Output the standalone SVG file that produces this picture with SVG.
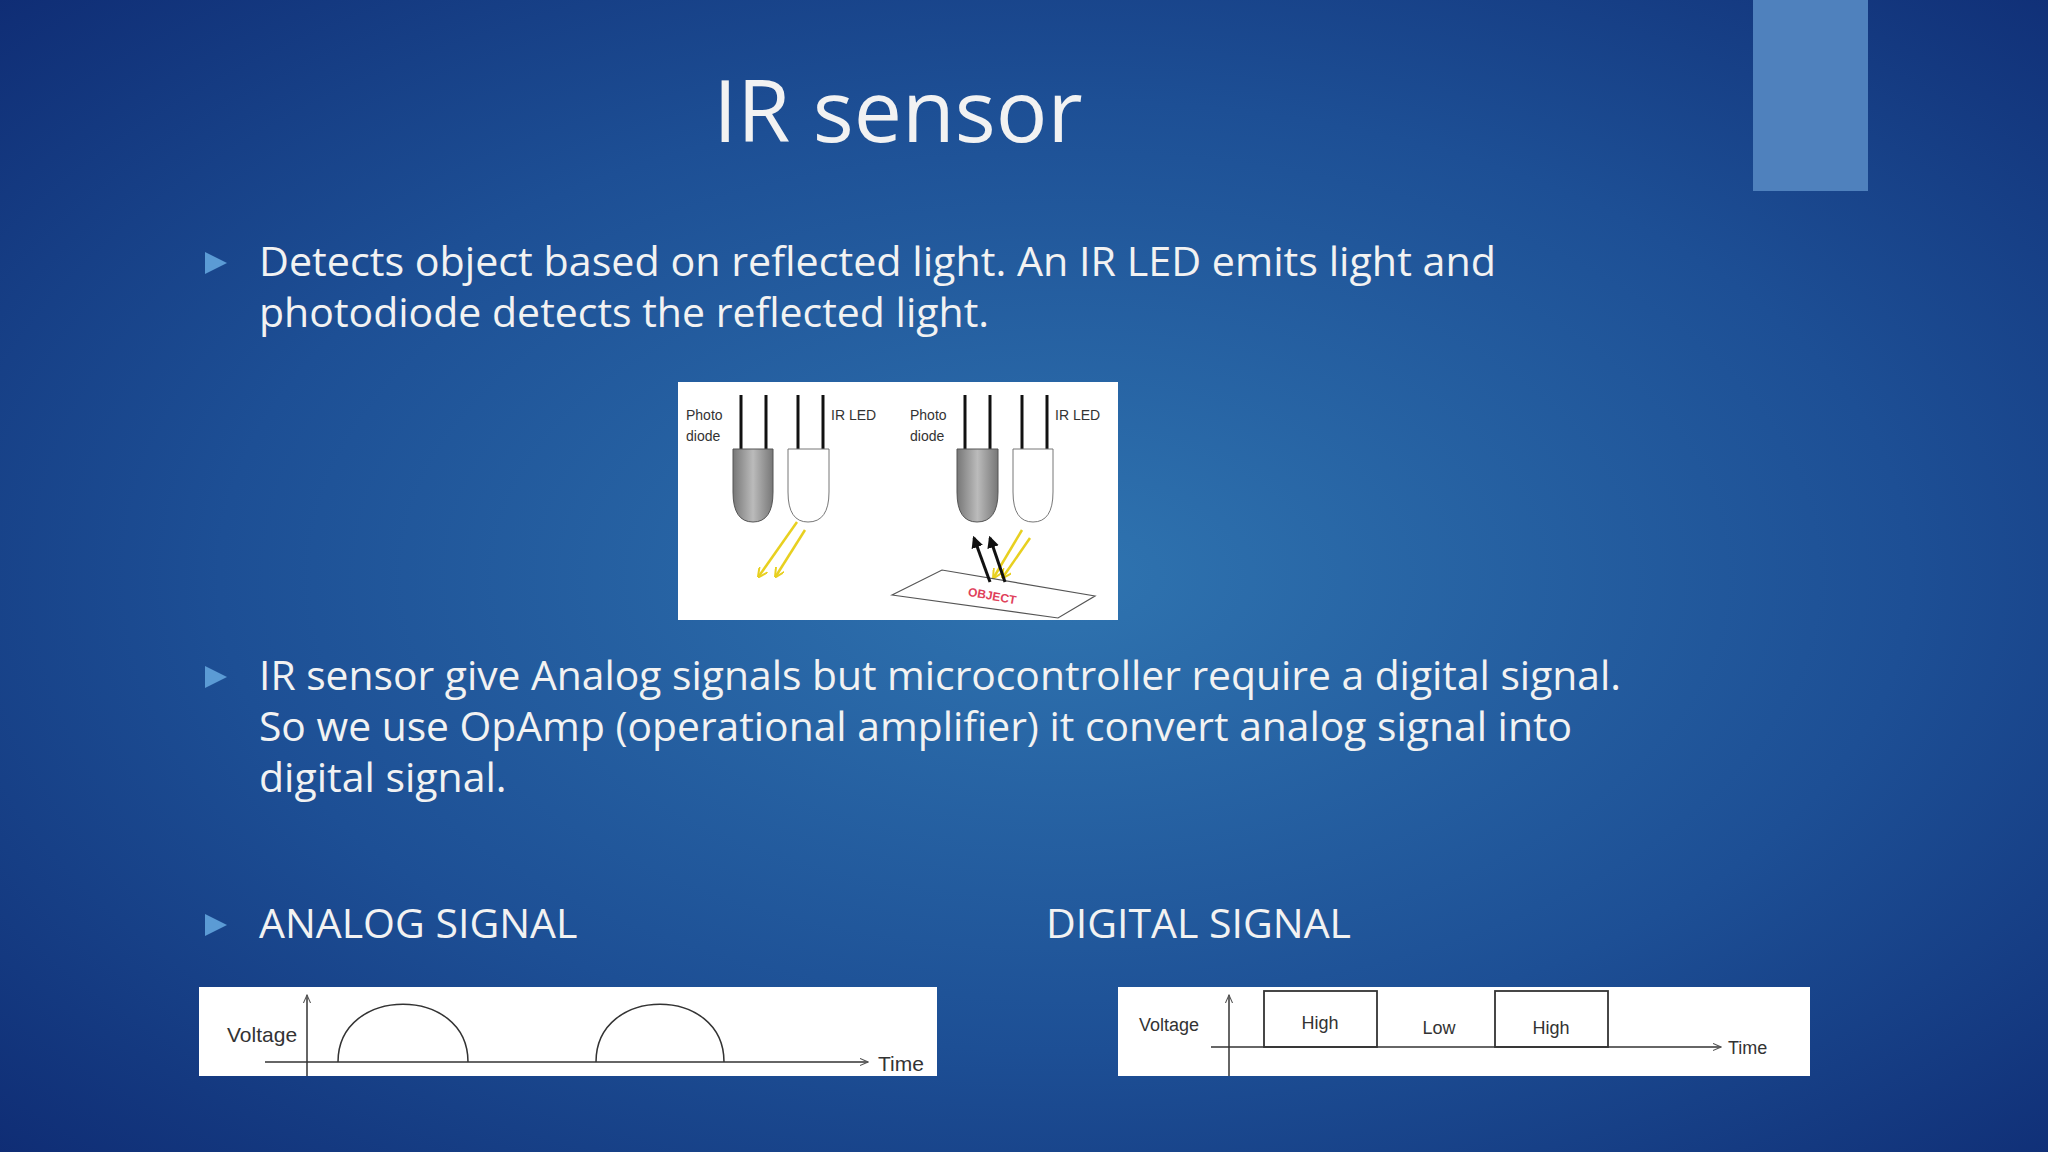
<svg xmlns="http://www.w3.org/2000/svg" width="2048" height="1152" viewBox="0 0 2048 1152">
<defs>
<radialGradient id="bg" cx="0.52" cy="0.5" r="0.75">
<stop offset="0" stop-color="#2f74b0"/><stop offset="0.55" stop-color="#1d4f95"/><stop offset="1" stop-color="#0e2a72"/>
</radialGradient>
<linearGradient id="gray" x1="0" x2="1"><stop offset="0" stop-color="#777"/><stop offset="0.5" stop-color="#bbb"/><stop offset="1" stop-color="#777"/></linearGradient>
<marker id="ya" viewBox="0 0 10 10" refX="8" refY="5" markerWidth="4" markerHeight="4" orient="auto"><path d="M0,0 L10,5 L0,10" fill="none" stroke="#e8d020" stroke-width="2"/></marker>
<marker id="ba" viewBox="0 0 10 10" refX="8" refY="5" markerWidth="4" markerHeight="4" orient="auto"><path d="M0,0 L10,5 L0,10 z" fill="#111"/></marker>
<marker id="ax" viewBox="0 0 10 10" refX="9" refY="5" markerWidth="6" markerHeight="6" orient="auto"><path d="M0,1 L9,5 L0,9" fill="none" stroke="#555" stroke-width="1.2"/></marker>
</defs>
<style>
.t{font-family:"Open Sans","Noto Sans",sans-serif;fill:#f2f2f2}
.b{font-size:41px}
.s{font-family:"Liberation Sans",sans-serif;fill:#333}
.lead{stroke:#111;stroke-width:3}
.ln{stroke:#333;stroke-width:1.5;fill:none}
.tri{fill:#5b9bd5}
</style>
<rect width="2048" height="1152" fill="url(#bg)"/>
<rect x="1753" y="0" width="115" height="191" fill="#4f81bd"/>
<text class="t" x="898" y="142" font-size="86" text-anchor="middle">IR sensor</text>
<g id="bullet1">
<path class="tri" d="M205,252 L227,263 L205,274z"/>
<text class="t b" x="259" y="276" textLength="1237" lengthAdjust="spacingAndGlyphs">Detects object based on reflected light.  An IR LED emits light and</text>
<text class="t b" x="259" y="327">photodiode detects the reflected light.</text>
</g>
<g id="picture">
<rect x="678" y="382" width="440" height="238" fill="#fff"/>
<g class="lead">
<line x1="741" y1="395" x2="741" y2="449"/><line x1="766" y1="395" x2="766" y2="449"/>
<line x1="798" y1="395" x2="798" y2="449"/><line x1="823" y1="395" x2="823" y2="449"/>
<line x1="965" y1="395" x2="965" y2="449"/><line x1="990" y1="395" x2="990" y2="449"/>
<line x1="1022" y1="395" x2="1022" y2="449"/><line x1="1047" y1="395" x2="1047" y2="449"/>
</g>
<path d="M733,449 H773 V492 Q773,522 753,522 Q733,522 733,492Z" fill="url(#gray)" stroke="#555"/>
<path d="M788,449 H829 V492 Q829,522 808,522 Q788,522 788,492Z" fill="#fff" stroke="#777"/>
<path d="M957,449 H998 V492 Q998,522 977,522 Q957,522 957,492Z" fill="url(#gray)" stroke="#555"/>
<path d="M1013,449 H1053 V492 Q1053,522 1033,522 Q1013,522 1013,492Z" fill="#fff" stroke="#777"/>
<g class="s" font-size="14">
<text x="686" y="420">Photo</text><text x="686" y="441">diode</text><text x="831" y="420">IR LED</text>
<text x="910" y="420">Photo</text><text x="910" y="441">diode</text><text x="1055" y="420">IR LED</text>
</g>
<g stroke="#e8d020" stroke-width="2.5" marker-end="url(#ya)">
<line x1="797" y1="522" x2="759" y2="576"/><line x1="805" y1="530" x2="776" y2="576"/>
<line x1="1022" y1="530" x2="994" y2="577"/><line x1="1030" y1="538" x2="1003" y2="577"/>
</g>
<path d="M892,595 L942,570 L1095,596 L1058,618Z" fill="none" stroke="#555" stroke-width="1.2"/>
<text x="992" y="600" font-family="Liberation Sans,sans-serif" font-size="12" font-weight="bold" fill="#e0405a" text-anchor="middle" transform="rotate(10 992 597)">OBJECT</text>
<g stroke="#111" stroke-width="3" marker-end="url(#ba)">
<line x1="990" y1="582" x2="974" y2="538"/><line x1="1005" y1="582" x2="990" y2="538"/>
</g>
</g>
<g id="bullet2">
<path class="tri" d="M205,666 L227,677 L205,688z"/>
<text class="t b" x="259" y="690" textLength="1362" lengthAdjust="spacingAndGlyphs">IR sensor give Analog signals but microcontroller require a digital signal.</text>
<text class="t b" x="259" y="741" textLength="1313" lengthAdjust="spacingAndGlyphs">So we use OpAmp (operational amplifier) it convert analog signal into</text>
<text class="t b" x="259" y="792">digital signal.</text>
</g>
<g id="bullet3">
<path class="tri" d="M205,914 L227,925 L205,936z"/>
<text class="t b" x="259" y="938">ANALOG SIGNAL</text>
<text class="t b" x="1046" y="938">DIGITAL SIGNAL</text>
</g>
<g id="analog">
<rect x="199" y="987" width="738" height="89" fill="#fff"/>
<line class="ln" x1="307" y1="1076" x2="307" y2="995" marker-end="url(#ax)"/>
<line class="ln" x1="265" y1="1062" x2="868" y2="1062" marker-end="url(#ax)"/>
<path class="ln" stroke-width="2" d="M338,1062 C338,985 468,985 468,1062 M596,1062 C596,985 724,985 724,1062"/>
<text class="s" x="227" y="1042" font-size="21">Voltage</text>
<text class="s" x="878" y="1071" font-size="21">Time</text>
</g>
<g id="digital">
<rect x="1118" y="987" width="692" height="89" fill="#fff"/>
<line class="ln" x1="1229" y1="1076" x2="1229" y2="995" marker-end="url(#ax)"/>
<line class="ln" x1="1211" y1="1047" x2="1721" y2="1047" marker-end="url(#ax)"/>
<rect x="1264" y="991" width="113" height="56" fill="none" stroke="#333" stroke-width="1.8"/>
<rect x="1495" y="991" width="113" height="56" fill="none" stroke="#333" stroke-width="1.8"/>
<g class="s" font-size="18">
<text x="1139" y="1031">Voltage</text>
<text x="1320" y="1029" text-anchor="middle">High</text>
<text x="1439" y="1034" text-anchor="middle">Low</text>
<text x="1551" y="1034" text-anchor="middle">High</text>
<text x="1728" y="1054">Time</text>
</g>
</g>
</svg>
